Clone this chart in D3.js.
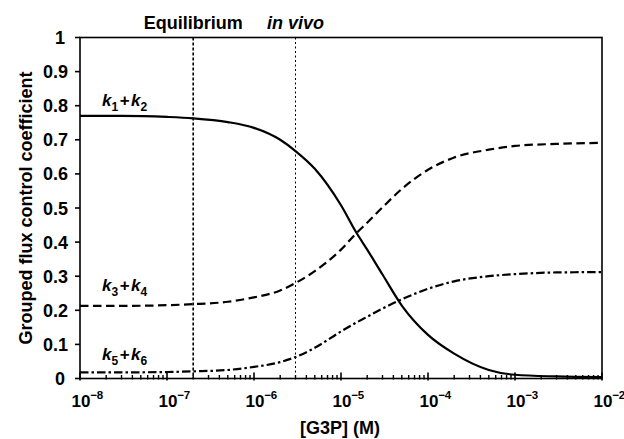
<!DOCTYPE html>
<html>
<head>
<meta charset="utf-8">
<script src="https://cdn.jsdelivr.net/npm/d3@7"></script>
<style>
  body { margin: 0; background: #fff; }
  svg { display: block; font-family: "Liberation Sans", Arial, sans-serif; }
  text { fill: #000; }
</style>
</head>
<body>
<svg width="624" height="439"></svg>
<script>
var conc = [1e-8, 3e-8, 1e-7, 2e-7, 5e-7, 1e-6, 2e-6, 3e-6, 5e-6, 1e-5, 1.5e-5, 2e-5, 3e-5, 5e-5, 1e-4, 2e-4, 5e-4, 1e-3, 3e-3, 1e-2];
var k12 = [0.770, 0.770, 0.767, 0.763, 0.752, 0.735, 0.700, 0.667, 0.615, 0.508, 0.428, 0.378, 0.305, 0.214, 0.128, 0.073, 0.025, 0.011, 0.006, 0.004];
var k34 = [0.213, 0.213, 0.215, 0.218, 0.225, 0.238, 0.258, 0.280, 0.315, 0.378, 0.426, 0.457, 0.502, 0.556, 0.612, 0.648, 0.671, 0.682, 0.688, 0.691];
var k56 = [0.018, 0.018, 0.019, 0.021, 0.025, 0.034, 0.048, 0.063, 0.090, 0.138, 0.164, 0.181, 0.205, 0.232, 0.263, 0.285, 0.300, 0.306, 0.311, 0.312];

var xTicks = [-8, -7, -6, -5, -4, -3, -2];
var yTicks = [0, 0.1, 0.2, 0.3, 0.4, 0.5, 0.6, 0.7, 0.8, 0.9, 1];
var markers = [{label: 'Equilibrium', x: 2e-7, italic: false}, {label: 'in vivo', x: 3e-6, italic: true}];

var svg = d3.select('svg');
var plotL = 80, plotR = 602, plotT = 37.5, plotB = 378.5;

var x = d3.scaleLog().domain([1e-8, 1e-2]).range([plotL, plotR]);
var y = d3.scaleLinear().domain([0, 1]).range([plotB, plotT]);

// marker lines
svg.selectAll('line.marker')
  .data(markers)
  .enter()
    .append('line')
    .attr('x1', function(d) { return x(d.x); })
    .attr('x2', function(d) { return x(d.x); })
    .attr('y1', plotT)
    .attr('y2', plotB)
    .attr('stroke', '#000')
    .attr('stroke-width', function(d) { return d.italic ? 1 : 1.6; })
    .attr('stroke-dasharray', function(d) { return d.italic ? '2,2.5' : '3,2'; });

svg.selectAll('text.marker')
  .data(markers)
  .enter()
    .append('text')
    .attr('x', function(d) { return x(d.x); })
    .attr('y', 29)
    .attr('text-anchor', 'middle')
    .attr('font-size', 18)
    .attr('font-weight', 'bold')
    .attr('font-style', function(d) { return d.italic ? 'italic' : 'normal'; })
    .text(function(d) { return d.label; });

// curves
var series = [
  {values: k12, dash: null, sub: ['1', '2'], ly: 0.799},
  {values: k34, dash: '8.5,4.5', sub: ['3', '4'], ly: 0.257},
  {values: k56, dash: '8.5,3,2.5,3', sub: ['5', '6'], ly: 0.055}
];

var line = d3.line()
  .x(function(d) { return x(d[0]); })
  .y(function(d) { return y(d[1]); })
  .curve(d3.curveMonotoneX);

svg.selectAll('path.curve')
  .data(series)
  .enter()
    .append('path')
    .attr('d', function(d) { return line(d3.zip(conc, d.values)); })
    .attr('fill', 'none')
    .attr('stroke', '#000')
    .attr('stroke-width', 2.2)
    .attr('stroke-dasharray', function(d) { return d.dash; });

var labels = svg.selectAll('text.klabel')
  .data(series)
  .enter()
    .append('text')
    .attr('x', 102)
    .attr('y', function(d) { return y(d.ly); })
    .attr('font-size', 17)
    .attr('font-weight', 'bold');

labels.each(function(d) {
  var t = d3.select(this);
  t.append('tspan').attr('font-style', 'italic').text('k');
  t.append('tspan').attr('font-size', 12).attr('dy', 5).text(d.sub[0]);
  t.append('tspan').attr('dy', -5).attr('dx', 1.5).text('+');
  t.append('tspan').attr('font-style', 'italic').attr('dx', 1.5).text('k');
  t.append('tspan').attr('font-size', 12).attr('dy', 5).text(d.sub[1]);
});

// frame
svg.append('rect')
  .attr('x', plotL)
  .attr('y', plotT)
  .attr('width', plotR - plotL)
  .attr('height', plotB - plotT)
  .attr('fill', 'none')
  .attr('stroke', '#000')
  .attr('stroke-width', 1.6);

// y axis
svg.selectAll('line.ytick')
  .data(yTicks)
  .enter()
    .append('line')
    .attr('x1', plotL - 5)
    .attr('x2', plotL)
    .attr('y1', function(d) { return y(d); })
    .attr('y2', function(d) { return y(d); })
    .attr('stroke', '#000')
    .attr('stroke-width', 1.6);

svg.selectAll('text.ylab')
  .data(yTicks)
  .enter()
    .append('text')
    .attr('x', function(d) { return d % 1 === 0 ? 65 : 68; })
    .attr('y', function(d) { return y(d) + 6.5; })
    .attr('text-anchor', 'end')
    .attr('font-size', 18)
    .attr('font-weight', 'bold')
    .text(function(d) { return d === 0 || d === 1 ? String(d) : d.toFixed(1); });

svg.append('text')
  .attr('transform', 'translate(32,' + ((plotT + plotB) / 2) + ') rotate(-90)')
  .attr('text-anchor', 'middle')
  .attr('font-size', 18)
  .attr('font-weight', 'bold')
  .text('Grouped flux control coefficient');

// x axis
var minor = [];
xTicks.slice(0, -1).forEach(function(e) {
  for (var m = 2; m < 10; m++) minor.push(m * Math.pow(10, e));
});

svg.selectAll('line.xminor')
  .data(minor)
  .enter()
    .append('line')
    .attr('x1', function(d) { return x(d); })
    .attr('x2', function(d) { return x(d); })
    .attr('y1', plotB - 3.5)
    .attr('y2', plotB + 1)
    .attr('stroke', '#000')
    .attr('stroke-width', 1.4);

svg.selectAll('line.xmajor')
  .data(xTicks)
  .enter()
    .append('line')
    .attr('x1', function(d) { return x(Math.pow(10, d)); })
    .attr('x2', function(d) { return x(Math.pow(10, d)); })
    .attr('y1', plotB - 6)
    .attr('y2', plotB + 2)
    .attr('stroke', '#000')
    .attr('stroke-width', 1.6);

var xl = svg.selectAll('g.xlab')
  .data(xTicks)
  .enter()
    .append('g')
    .attr('transform', function(d) { return 'translate(' + (x(Math.pow(10, d)) + 1) + ',407)'; });

xl.append('text')
  .attr('text-anchor', 'middle')
  .attr('font-size', 17)
  .attr('font-weight', 'bold')
  .text('10');

xl.append('text')
  .attr('x', 9.5)
  .attr('y', -8)
  .attr('font-size', 11.5)
  .attr('font-weight', 'bold')
  .attr('letter-spacing', -0.5)
  .text(function(d) { return '\u2212' + (-d); });

svg.append('text')
  .attr('x', 340)
  .attr('y', 434)
  .attr('text-anchor', 'middle')
  .attr('font-size', 18)
  .attr('font-weight', 'bold')
  .text('[G3P] (M)');
</script>
</body>
</html>
